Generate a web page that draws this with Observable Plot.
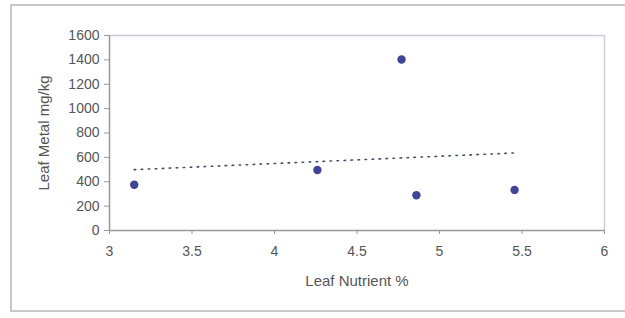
<!DOCTYPE html>
<html>
<head>
<meta charset="utf-8">
<script src="https://cdn.jsdelivr.net/npm/d3@7"></script>
<script src="https://cdn.jsdelivr.net/npm/@observablehq/plot@0.6"></script>
<style>
  html, body { margin: 0; padding: 0; background: #fff; }
  #wrap { position: relative; width: 625px; height: 318px; overflow: hidden; }
  #border { position: absolute; left: 10px; top: 4px; width: 630px; height: 308px; border: 2px solid #c8c8c8; box-sizing: border-box; }
  #chart { position: absolute; left: 0; top: 0; }
</style>
</head>
<body>
<div id="wrap"><div id="border"></div><div id="chart"></div></div>
<script>
const nutrient = [3.15, 4.26, 4.77, 4.86, 5.455];
const metal = [375, 497, 1403, 289, 333];
const xTicks = [3, 3.5, 4, 4.5, 5, 5.5, 6];
const yTicks = [0, 200, 400, 600, 800, 1000, 1200, 1400, 1600];
const xLabel = "Leaf Nutrient %";
const yLabel = "Leaf Metal mg/kg";

const data = nutrient.map((x, i) => ({x, y: metal[i]}));

const chart = Plot.plot({
  width: 625,
  height: 318,
  marginLeft: 109,
  marginRight: 21,
  marginTop: 35,
  marginBottom: 88,
  style: {fontFamily: "'Liberation Sans', Arial, sans-serif", fontSize: "14px", background: "transparent", color: "#555"},
  x: {domain: [3, 6]},
  y: {domain: [0, 1600]},
  marks: [
    Plot.ruleY([1600], {stroke: "#c9cdd8", strokeWidth: 1.5}),
    Plot.ruleX([6], {stroke: "#c9cdd8", strokeWidth: 1.5}),
    Plot.axisY(yTicks, {tickSize: 5, tickPadding: 5, label: null, stroke: "#999", fill: "#555", fontSize: 14, tickFormat: d => String(d)}),
    Plot.axisX(xTicks, {tickSize: 4, tickPadding: 12, label: null, stroke: "#999", fill: "#555", fontSize: 14, tickFormat: d => String(d)}),
    Plot.ruleY([0], {stroke: "#999", strokeWidth: 1.5}),
    Plot.ruleX([3], {stroke: "#999", strokeWidth: 1.5}),
    Plot.linearRegressionY(data, {x: "x", y: "y", ci: 0, stroke: "#4a4e66", strokeWidth: 1.6, strokeDasharray: "1.5,5.5"}),
    Plot.dot(data, {x: "x", y: "y", r: 4.2, fill: "#3f4694", stroke: "none"}),
    Plot.text([xLabel], {frameAnchor: "bottom", dy: 51, lineAnchor: "middle", textAnchor: "middle", text: d => d, fill: "#555", fontSize: 15}),
    Plot.text([yLabel], {frameAnchor: "left", dx: -65, rotate: -90, textAnchor: "middle", lineAnchor: "middle", text: d => d, fill: "#555", fontSize: 15})
  ]
});
document.getElementById("chart").appendChild(chart);
</script>
</body>
</html>
